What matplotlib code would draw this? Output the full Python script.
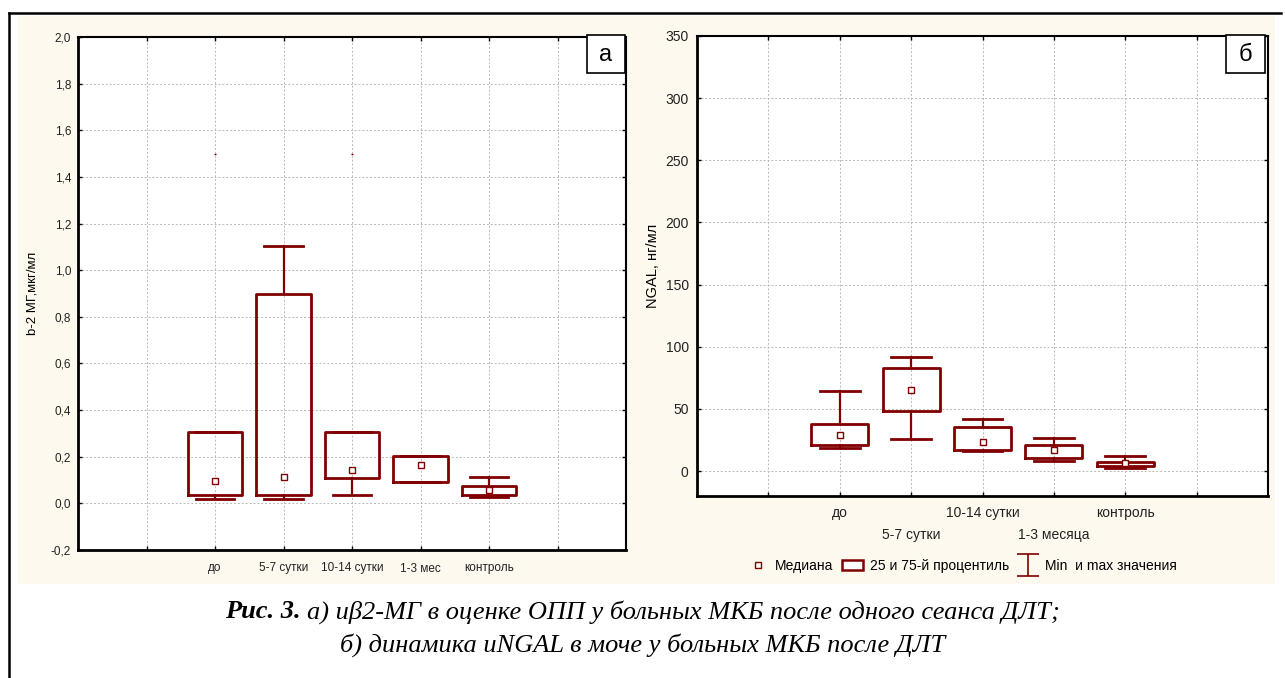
import matplotlib
matplotlib.use("Agg")
import matplotlib.pyplot as plt
from matplotlib.patches import Rectangle, Patch
from matplotlib.lines import Line2D
from matplotlib.path import Path
from matplotlib.ticker import FuncFormatter

# panel a: b-2 МГ
cats_a = ["до", "5-7 сутки", "10-14 сутки", "1-3 мес", "контроль"]
med_a = [0.095, 0.115, 0.145, 0.163, 0.058]
q1_a = [0.034, 0.034, 0.108, 0.093, 0.034]
q3_a = [0.305, 0.897, 0.305, 0.203, 0.073]
min_a = [0.020, 0.020, 0.034, 0.090, 0.026]
max_a = [0.305, 1.104, 0.305, 0.203, 0.115]
outl_a = [[1.5], [], [1.5], [], []]

# panel б: NGAL
cats_b = ["до", "5-7 сутки", "10-14 сутки", "1-3 месяца", "контроль"]
med_b = [29.1, 65.5, 23.8, 17.1, 6.7]
q1_b = [21.1, 48.7, 17.4, 10.2, 4.3]
q3_b = [38.0, 82.9, 35.6, 21.4, 7.5]
min_b = [18.4, 26.2, 15.8, 7.8, 2.9]
max_b = [64.7, 92.0, 42.2, 26.7, 12.0]

legend_labels = ["Медиана", "25 и 75-й процентиль", "Min  и max значения"]
caption_bold = "Рис. 3."
caption_1 = "а) иβ2-МГ в оценке ОПП у больных МКБ после одного сеанса ДЛТ;"
caption_2 = "б) динамика uNGAL в моче у больных МКБ после ДЛТ"

RED = "#800000"
NARROW = ["Liberation Sans Narrow", "Liberation Sans", "DejaVu Sans"]
W, H = 1285, 678


def fx(px):
    return px / W


def fy(py):
    return 1 - py / H


def draw_boxes(ax, med, q1, q3, lo, hi, fliers=None):
    """Draw box plots from precomputed stats."""
    stats = []
    for i in range(len(med)):
        stats.append(dict(med=med[i], mean=med[i], q1=q1[i], q3=q3[i],
                          whislo=lo[i], whishi=hi[i],
                          fliers=fliers[i] if fliers else []))
    pos = list(range(2, 2 + len(med)))
    ax.bxp(stats, positions=pos, widths=0.8, capwidths=0.56,
           showmeans=True, showfliers=True,
           boxprops=dict(color=RED, linewidth=2.0),
           whiskerprops=dict(color=RED, linewidth=1.6),
           capprops=dict(color=RED, linewidth=2.0),
           medianprops=dict(linewidth=0),
           meanprops=dict(marker="s", markersize=4.5, markerfacecolor="white",
                          markeredgecolor=RED, markeredgewidth=1.0),
           flierprops=dict(marker="_", markersize=2, markeredgecolor=RED,
                           markeredgewidth=1.0))


def style_axes(ax, ylim, yticks, size):
    ax.set_facecolor("white")
    ax.set_ylim(*ylim)
    ax.set_yticks(yticks)
    ax.grid(True, color="#b8b8b8", linestyle=(0, (2, 2)), linewidth=0.7)
    ax.set_axisbelow(True)
    for side in ["top", "right"]:
        ax.spines[side].set_linewidth(1.5)
    for side in ["left", "bottom"]:
        ax.spines[side].set_linewidth(2.0)
    ax.tick_params(direction="in", length=3, width=1, top=True, right=True,
                   colors="black", labelcolor="#222222", labelsize=size)


def letter_box(fig, x0, x1, y0, y1, txt):
    fig.patches.append(Rectangle((fx(x0), fy(y1)), fx(x1 - x0), (y1 - y0) / H,
                                 transform=fig.transFigure, facecolor="white",
                                 edgecolor="black", linewidth=1.2, zorder=5))
    fig.text(fx((x0 + x1) / 2), fy((y0 + y1) / 2 + 1), txt, ha="center",
             va="center", fontsize=17, family="Liberation Sans", zorder=6)


fig = plt.figure(figsize=(W / 100, H / 100), dpi=100)
fig.patch.set_facecolor("white")

# cream panel and frame
fig.patches.append(Rectangle((fx(18), fy(584)), fx(1275 - 18), (584 - 16) / H,
                             transform=fig.transFigure, facecolor="#fef9ee",
                             edgecolor="none", zorder=-5))
fig.lines.append(Line2D([fx(9), fx(9)], [fy(13), 0], transform=fig.transFigure,
                        color="black", linewidth=1.8, zorder=-4))
fig.lines.append(Line2D([fx(9), fx(1281)], [fy(13), fy(13)],
                        transform=fig.transFigure, color="black", linewidth=1.8,
                        zorder=-4))

# panel a
ax1 = fig.add_axes([fx(78), fy(550), fx(626 - 78), (550 - 37) / H])
style_axes(ax1, (-0.2, 2.0), [-0.2 + 0.2 * i for i in range(12)], 8.5)
draw_boxes(ax1, med_a, q1_a, q3_a, min_a, max_a, outl_a)
ax1.set_xlim(0, 8)
ax1.set_xticks(range(1, 8))
ax1.set_xticklabels([""] + cats_a + [""])
ax1.yaxis.set_major_formatter(FuncFormatter(
    lambda v, p: f"{v:.1f}".replace(".", ",").replace("-0,0", "0,0")))
for lab in ax1.get_xticklabels() + ax1.get_yticklabels():
    lab.set_family(NARROW)
ax1.tick_params(axis="x", pad=9)
ax1.tick_params(axis="y", pad=5)
ax1.set_ylabel("b-2 МГ,мкг/мл", fontsize=9.5, family="Liberation Sans", labelpad=9)

# panel б
ax2 = fig.add_axes([fx(697), fy(496), fx(1268 - 697), (496 - 36) / H])
style_axes(ax2, (-20, 350), range(0, 351, 50), 10)
draw_boxes(ax2, med_b, q1_b, q3_b, min_b, max_b)
ax2.set_xlim(0, 8)
ax2.set_xticks(range(1, 8))
ax2.set_xticklabels([""] + cats_b + [""])
for lab in ax2.get_xticklabels() + ax2.get_yticklabels():
    lab.set_family(NARROW)
ax2.tick_params(axis="y", pad=6)
for i, t in enumerate(ax2.xaxis.get_major_ticks()):
    t.set_pad(7 if i % 2 == 1 else 23)
ax2.set_ylabel("NGAL, нг/мл", fontsize=10.5, family="Liberation Sans", labelpad=4)

letter_box(fig, 587, 625, 35, 73, "а")
letter_box(fig, 1226, 1265, 35, 73, "б")

# legend
ibeam = Path([(-0.5, 0.5), (0.5, 0.5), (0, 0.5), (0, -0.5), (-0.5, -0.5), (0.5, -0.5)],
             [Path.MOVETO, Path.LINETO, Path.MOVETO, Path.LINETO, Path.MOVETO, Path.LINETO])
handles = [
    Line2D([], [], linestyle="none", marker="s", markersize=4.5,
           markerfacecolor="white", markeredgecolor=RED, markeredgewidth=1.0),
    Patch(facecolor="white", edgecolor=RED, linewidth=1.8),
    Line2D([], [], linestyle="none", marker=ibeam, markersize=16,
           markeredgecolor=RED, markeredgewidth=1.2),
]
fig.legend(handles, legend_labels, loc="center",
           bbox_to_anchor=(fx(962), fy(566)), ncol=3, frameon=False,
           handlelength=1.5, handletextpad=0.5, columnspacing=0.6,
           prop={"family": NARROW, "size": 10})

# caption, first line centred as a whole
renderer = fig.canvas.get_renderer()
t_bold = fig.text(0, fy(612), caption_bold + " ", ha="left", va="center",
                  fontsize=19, family="Liberation Serif", style="italic",
                  weight="bold")
t_rest = fig.text(0, fy(612), caption_1, ha="left", va="center", fontsize=19,
                  family="Liberation Serif", style="italic")
w_bold = t_bold.get_window_extent(renderer).width
w_rest = t_rest.get_window_extent(renderer).width
x_start = (W - w_bold - w_rest) / 2
t_bold.set_x(x_start / W)
t_rest.set_x((x_start + w_bold) / W)
fig.text(0.5, fy(645), caption_2, ha="center", va="center", fontsize=19,
         family="Liberation Serif", style="italic")

fig.savefig("out.png", dpi=100)
